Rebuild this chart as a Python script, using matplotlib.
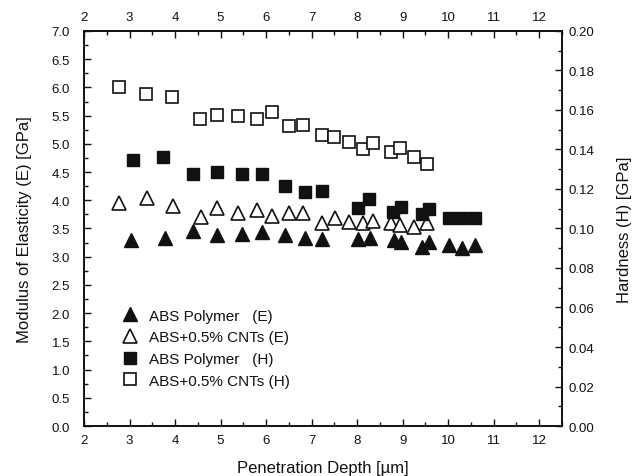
import numpy as np
import matplotlib
matplotlib.use("Agg")
import matplotlib.pyplot as plt
from matplotlib.ticker import MultipleLocator

plt.rcParams['font.family'] = ['Liberation Sans', 'DejaVu Sans']

# ABS+0.5% CNTs, hardness (right axis, GPa)
x_cnt_h = [2.76, 3.36, 3.94, 4.55, 4.92, 5.39, 5.79, 6.13, 6.50, 6.80,
           7.22, 7.50, 7.82, 8.12, 8.34, 8.74, 8.94, 9.25, 9.54]
h_cnt = [0.1715, 0.1682, 0.1664, 0.1553, 0.1572, 0.1569, 0.1555, 0.1589, 0.1519, 0.1523,
         0.1473, 0.1462, 0.1436, 0.1402, 0.1433, 0.1385, 0.1409, 0.1363, 0.1326]

# ABS polymer, hardness
x_abs_h = [3.07, 3.74, 4.40, 4.93, 5.46, 5.92, 6.41, 6.85, 7.23, 8.01,
           8.27, 8.79, 8.96, 9.42, 9.58, 10.02, 10.31, 10.59]
h_abs = [0.1349, 0.1363, 0.1275, 0.1285, 0.1275, 0.1275, 0.1215, 0.1186, 0.1190, 0.1106,
         0.1150, 0.1082, 0.1108, 0.1074, 0.1101, 0.1055, 0.1051, 0.1051]

# ABS+0.5% CNTs, modulus (left axis, GPa)
x_cnt_e = [2.76, 3.38, 3.95, 4.56, 4.93, 5.39, 5.80, 6.14, 6.50, 6.80,
           7.22, 7.51, 7.82, 8.12, 8.34, 8.74, 8.94, 9.25, 9.54]
e_cnt = [3.96, 4.04, 3.89, 3.71, 3.86, 3.77, 3.83, 3.72, 3.77, 3.77,
         3.59, 3.69, 3.61, 3.60, 3.63, 3.60, 3.56, 3.52, 3.60]

# ABS polymer, modulus
x_abs_e = [3.04, 3.77, 4.40, 4.93, 5.47, 5.92, 6.41, 6.85, 7.22, 8.01,
           8.28, 8.80, 8.96, 9.43, 9.58, 10.02, 10.31, 10.59]
e_abs = [3.30, 3.34, 3.46, 3.38, 3.40, 3.44, 3.39, 3.34, 3.32, 3.31,
         3.33, 3.29, 3.26, 3.18, 3.26, 3.20, 3.15, 3.20]

ink = '#111111'
fs = 9.5

fig = plt.figure(figsize=(6.39, 4.77), dpi=100)
ax = fig.add_axes([0.1315, 0.1048, 0.748, 0.8282])
ax2 = ax.twinx()

# modulus series on the left axis
ax.plot(x_abs_e, e_abs, linestyle='none', marker='^', ms=10, color=ink,
        mec=ink, label='ABS Polymer   (E)')
ax.plot(x_cnt_e, e_cnt, linestyle='none', marker='^', ms=10, mfc='white',
        mec=ink, mew=1.2, label='ABS+0.5% CNTs (E)')

# hardness series on the right axis
ax2.plot(x_abs_h, h_abs, linestyle='none', marker='s', ms=9, color=ink,
         mec=ink, label='ABS Polymer   (H)')
ax2.plot(x_cnt_h, h_cnt, linestyle='none', marker='s', ms=9, mfc='white',
         mec=ink, mew=1.2, label='ABS+0.5% CNTs (H)')

ax.set_xlim(2, 12.5)
ax.set_ylim(0, 7.0)
ax2.set_ylim(0, 0.20)

ax.xaxis.set_major_locator(MultipleLocator(1))
ax.xaxis.set_minor_locator(MultipleLocator(0.5))
ax.yaxis.set_major_locator(MultipleLocator(0.5))
ax.yaxis.set_minor_locator(MultipleLocator(0.25))
ax2.yaxis.set_major_locator(MultipleLocator(0.02))
ax2.yaxis.set_minor_locator(MultipleLocator(0.01))

ax.yaxis.set_major_formatter(plt.FormatStrFormatter('%.1f'))
ax2.yaxis.set_major_formatter(plt.FormatStrFormatter('%.2f'))

ax.tick_params(axis='both', which='both', direction='in', colors=ink,
               labelsize=fs, top=True, labeltop=True)
ax.tick_params(which='major', length=5, width=1, pad=6)
ax.tick_params(which='minor', length=3, width=1)
ax.tick_params(axis='y', right=False, pad=10)
ax2.tick_params(axis='y', which='both', direction='in', colors=ink, labelsize=fs)
ax2.tick_params(which='major', length=5, width=1, pad=5)
ax2.tick_params(which='minor', length=3, width=1)

for a in (ax, ax2):
    for s in a.spines.values():
        s.set_linewidth(1.2)
        s.set_color(ink)

ax.set_xlabel('Penetration Depth [µm]', fontsize=12, color=ink, labelpad=10)
ax.set_ylabel('Modulus of Elasticity (E) [GPa]', fontsize=12, color=ink, labelpad=14)
ax2.set_ylabel('Hardness (H) [GPa]', fontsize=12, color=ink, rotation=90, labelpad=16)

h1, l1 = ax.get_legend_handles_labels()
h2, l2 = ax2.get_legend_handles_labels()
leg = ax2.legend(h1 + h2, l1 + l2, loc='lower left', bbox_to_anchor=(0.05, 0.07),
                 frameon=False, fontsize=11, handletextpad=0.5, handlelength=1.5,
                 labelspacing=0.5, borderaxespad=0.3)
for t in leg.get_texts():
    t.set_color(ink)

fig.savefig('out.png', dpi=100)
